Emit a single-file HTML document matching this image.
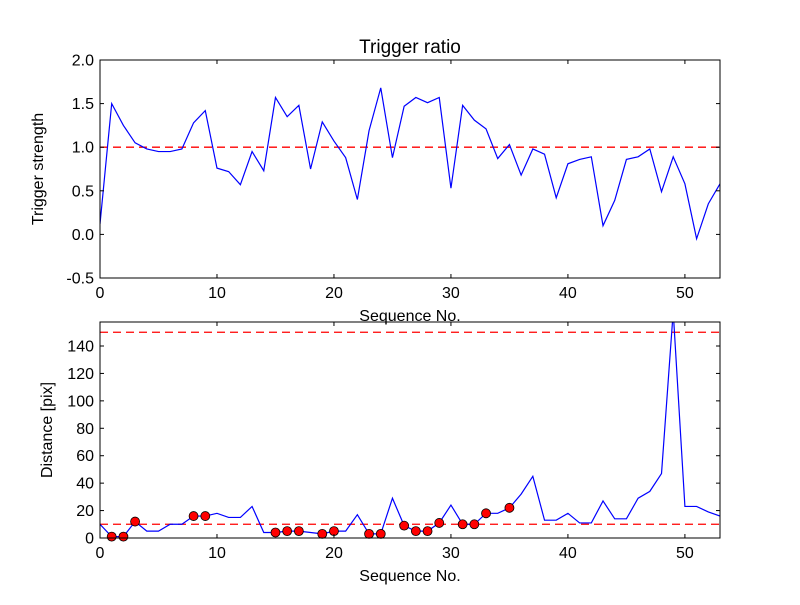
<!DOCTYPE html>
<html><head><meta charset="utf-8"><style>
body{margin:0;background:#fff;}
svg text{font-family:"Liberation Sans","DejaVu Sans",sans-serif;}
</style></head><body>
<svg id="c" width="800" height="600">
<defs>
<clipPath id="cp1"><rect x="100" y="60" width="620" height="218"/></clipPath>
<clipPath id="cp2"><rect x="100" y="322" width="620" height="216"/></clipPath>
</defs>
</svg>
<script>
const seq1 = [0.12,1.5,1.25,1.05,0.98,0.95,0.95,0.98,1.28,1.42,0.76,0.72,0.57,0.95,0.73,1.57,1.35,1.48,0.75,1.29,1.07,0.88,0.40,1.19,1.68,0.88,1.47,1.57,1.51,1.57,0.53,1.48,1.31,1.21,0.87,1.03,0.68,0.98,0.92,0.42,0.81,0.86,0.89,0.10,0.39,0.86,0.89,0.98,0.49,0.89,0.58,-0.05,0.35,0.58];
const dist = [10,1,1,12,5,5,10,10,16,16,18,15,15,23,4,4,5,5,4,3,5,5,17,3,3,29,9,5,5,11,24,10,10,18,18,22,32,45,13,13,18,11,11,27,14,14,29,34,47,165,23,23,19,16];
const markedIdx = [1,2,3,8,9,15,16,17,19,20,23,24,26,27,28,29,31,32,33,35];
const xTicks = [0,10,20,30,40,50];
const yTicks1 = [-0.5,0.0,0.5,1.0,1.5,2.0];
const yTicks2 = [0,20,40,60,80,100,120,140];
const thr1 = [1.0];
const thr2 = [10,150];

const svg = document.getElementById('c');
const NS = 'http://www.w3.org/2000/svg';
function mk(tag, attrs, parent){const e=document.createElementNS(NS,tag);for(const k in attrs)e.setAttribute(k,attrs[k]);(parent||svg).appendChild(e);return e;}
const X0=100,X1=720;
const sx = v => X0 + v/53*(X1-X0);
const sy1 = v => 60 + (2.0-v)/2.5*218;
const sy2 = v => 538 - v*216/157.5;

function axes(top,bot,yTicks,sy,fmt,ylab,name){
  const g=mk('g',{});
  
  
  mk('rect',{x:X0,y:top,width:X1-X0,height:bot-top,fill:'none',stroke:'#000','stroke-width':1},g);
  xTicks.forEach(t=>{const x=sx(t);
    mk('line',{x1:x,x2:x,y1:bot,y2:bot-4,stroke:'#000'},g);
    mk('line',{x1:x,x2:x,y1:top,y2:top+4,stroke:'#000'},g);
    const tx=mk('text',{x:x,y:bot+20,'text-anchor':'middle','font-size':16},g);tx.textContent=t;
    
    });
  yTicks.forEach(t=>{const y=sy(t);
    mk('line',{x1:X0,x2:X0+4,y1:y,y2:y,stroke:'#000'},g);
    mk('line',{x1:X1,x2:X1-4,y1:y,y2:y,stroke:'#000'},g);
    const tx=mk('text',{x:X0-6,y:y+5.5,'text-anchor':'end','font-size':16},g);tx.textContent=fmt(t);
    
    });
  const yl=mk('text',{x:0,y:0,'text-anchor':'middle','font-size':16,transform:`translate(${name==='top-axes'?43:52},${(top+bot)/2}) rotate(-90)`},g);
  yl.textContent=ylab;
  
  
  const xl=mk('text',{x:(X0+X1)/2,y:bot+43,'text-anchor':'middle','font-size':16},g);
  xl.textContent='Sequence No.';
  
  
}
thr1.forEach(v=>{const l=mk('line',{x1:X0,x2:X1,y1:sy1(v),y2:sy1(v),stroke:'#f00','stroke-width':1.3,'stroke-dasharray':'8,5'});
  
  });
const p1=mk('polyline',{points:seq1.map((v,i)=>sx(i)+','+sy1(v)).join(' '),fill:'none',stroke:'#00f','stroke-width':1.2,'clip-path':'url(#cp1)'});


axes(60,278,yTicks1,sy1,t=>t.toFixed(1),'Trigger strength','top-axes');
const ti=mk('text',{x:410,y:53,'text-anchor':'middle','font-size':19});ti.textContent='Trigger ratio';


thr2.forEach(v=>{const l=mk('line',{x1:X0,x2:X1,y1:sy2(v),y2:sy2(v),stroke:'#f00','stroke-width':1.3,'stroke-dasharray':'8,5','clip-path':'url(#cp2)'});
  
  });
const p2=mk('polyline',{points:dist.map((v,i)=>sx(i)+','+sy2(v)).join(' '),fill:'none',stroke:'#00f','stroke-width':1.2,'clip-path':'url(#cp2)'});


markedIdx.forEach(i=>{const c=mk('circle',{cx:sx(i),cy:sy2(dist[i]),r:4.5,fill:'#f00',stroke:'#000','stroke-width':0.8});
  
  });
axes(322,538,yTicks2,sy2,t=>String(t),'Distance [pix]','bottom-axes');
</script>
</body></html>
